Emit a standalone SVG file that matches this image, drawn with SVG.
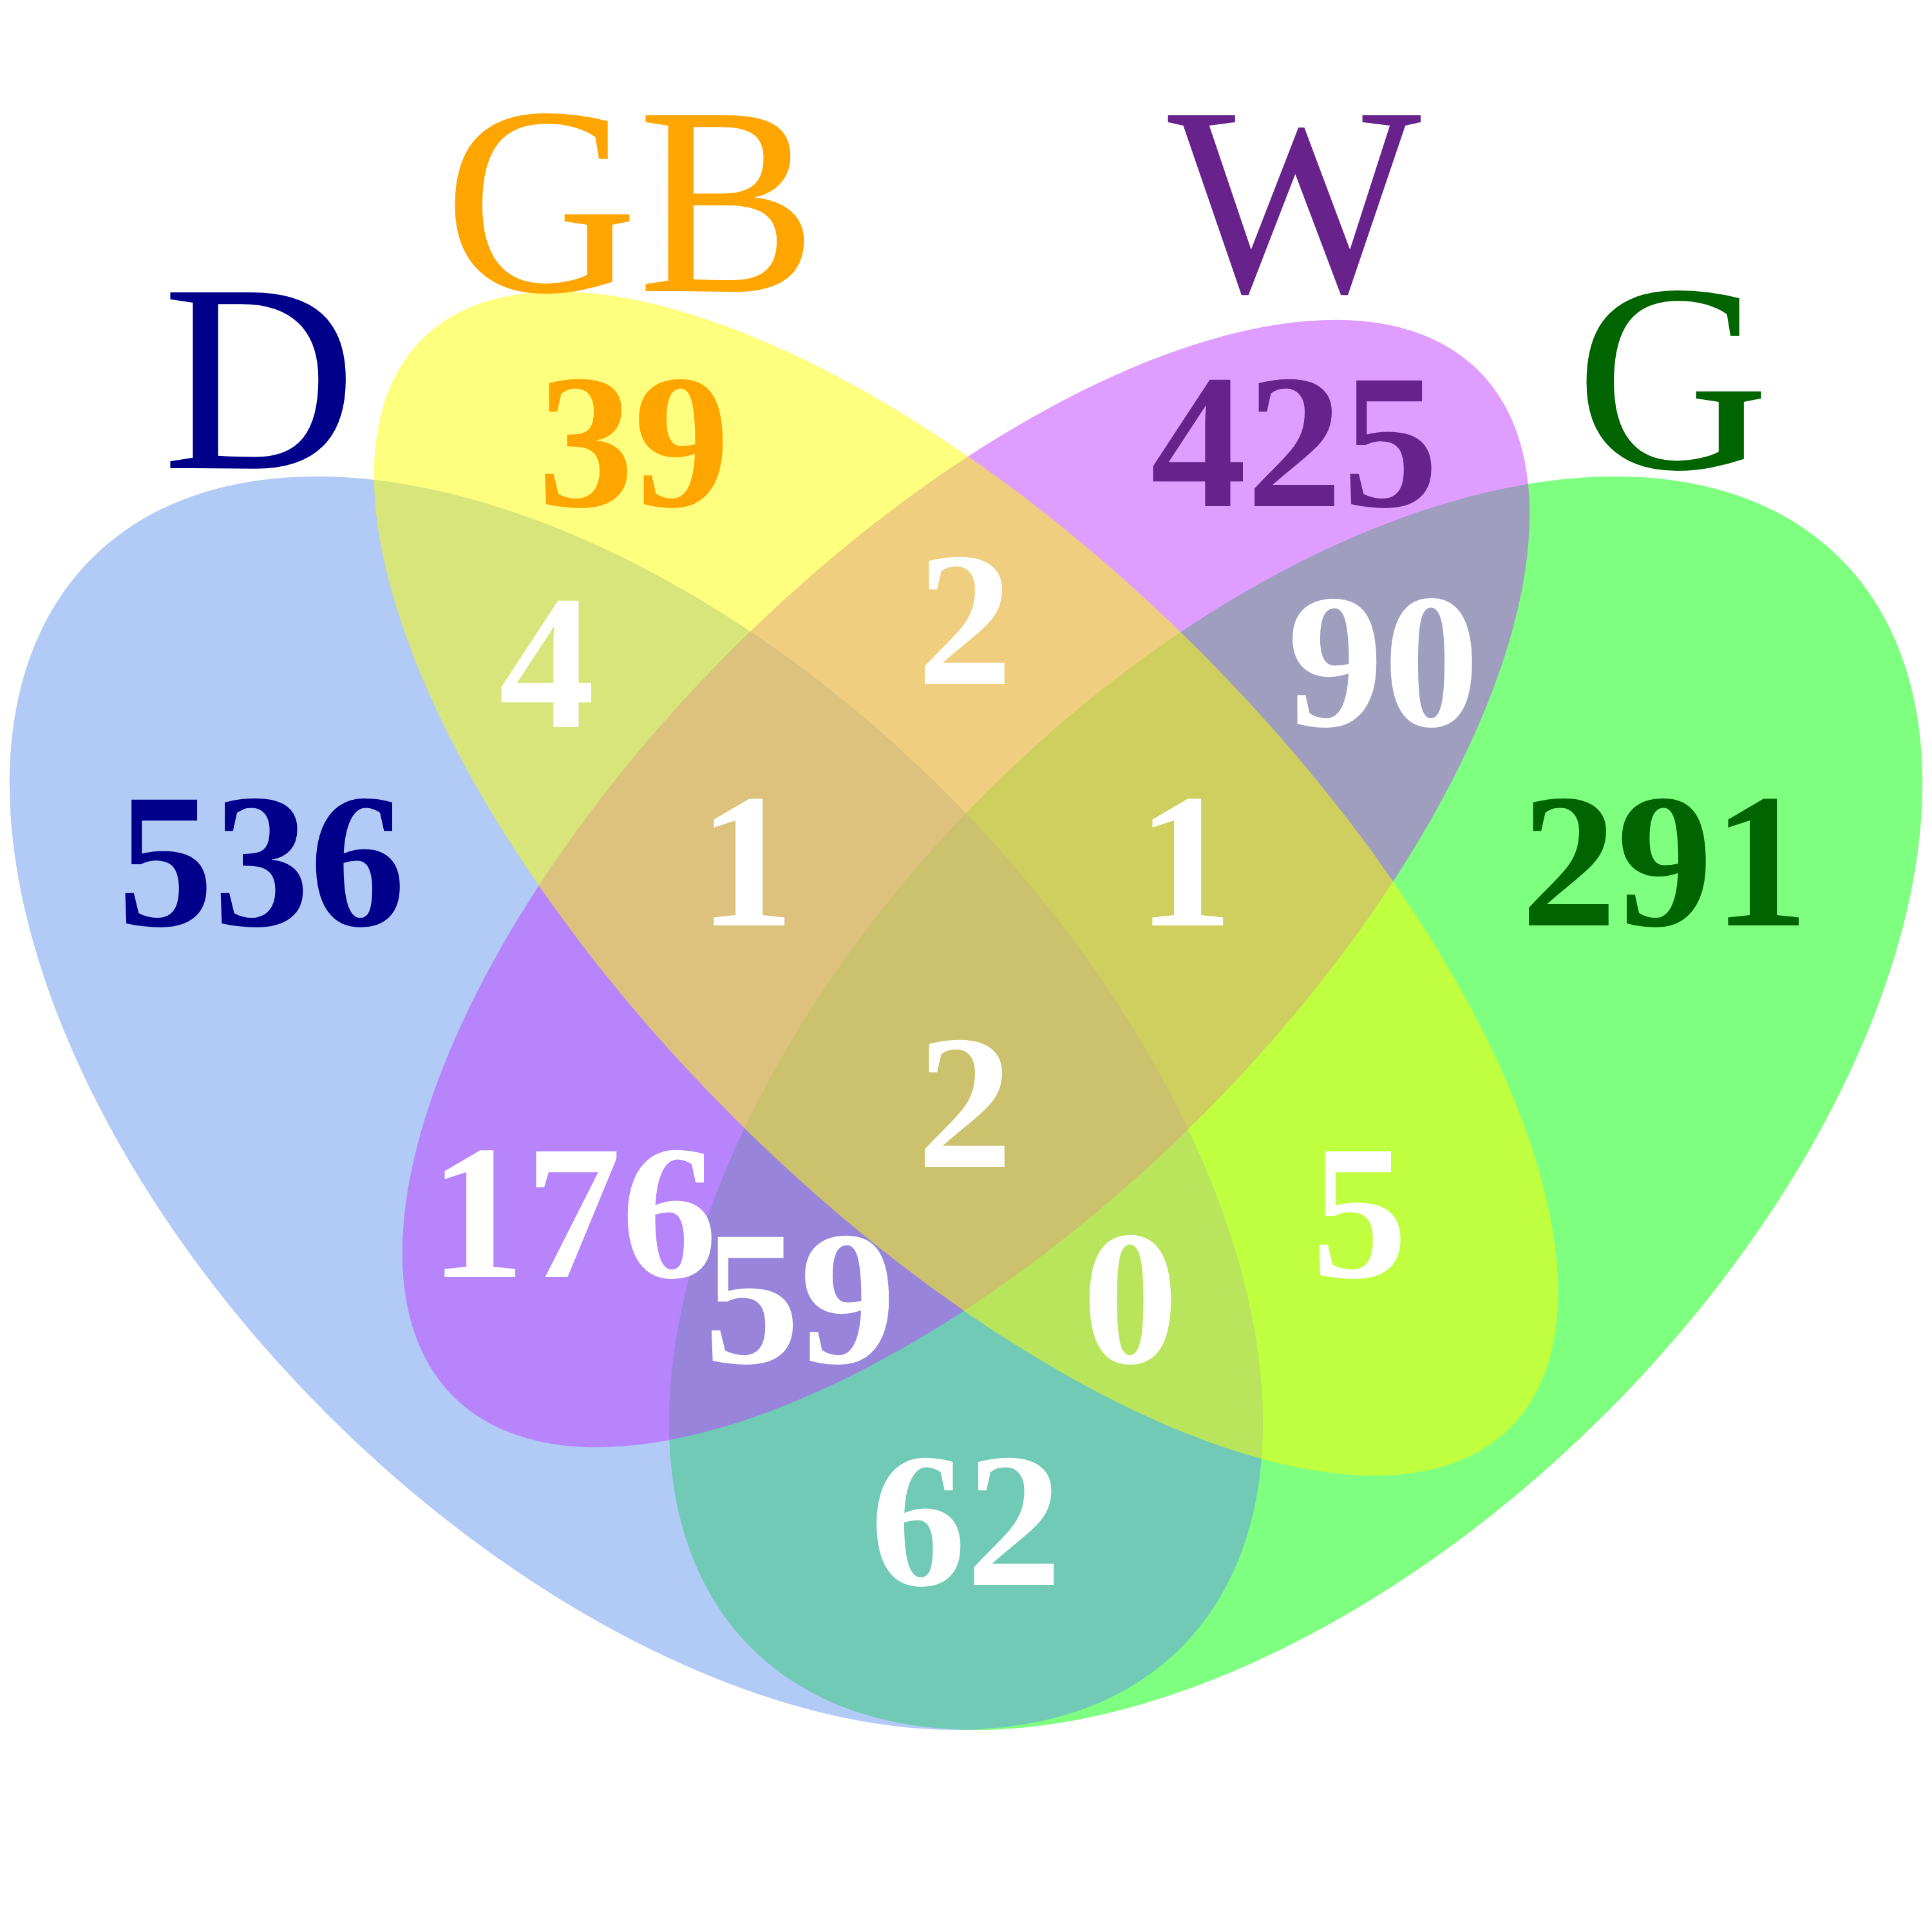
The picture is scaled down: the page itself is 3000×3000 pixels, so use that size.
<svg xmlns="http://www.w3.org/2000/svg" width="3000" height="3000" viewBox="0 0 3000 3000">
<style>
.set{fill-opacity:0.5;stroke:none}
.cat{font-size:417px;text-anchor:middle}
.num{font-size:298px;font-weight:bold;text-anchor:middle;fill:#ffffff}
</style>
<rect width="3000" height="3000" fill="#ffffff"/>
<g font-family="Liberation Serif, Times New Roman, Times, serif">
<g id="set-G">
<ellipse class="set" cx="0" cy="0" rx="1196" ry="681" fill="#00FF00" transform="translate(2012 1713) rotate(-45)"/>
<text class="cat" x="2597" y="727" fill="#006400" font-family="Liberation Serif, Times New Roman, serif">G</text>
</g>
<g id="set-D">
<ellipse class="set" cx="0" cy="0" rx="1196" ry="681" fill="#6495ED" transform="translate(988 1713) rotate(45)"/>
<text class="cat" x="403" y="727" fill="#00008B" font-family="Liberation Serif, Times New Roman, serif">D</text>
</g>
<g id="set-W">
<ellipse class="set" cx="0" cy="0" rx="1126" ry="514" fill="#BF3EFF" transform="translate(1500 1372) rotate(-45)"/>
<text class="cat" x="2010" y="452" fill="#68228B" font-family="Liberation Serif, Times New Roman, serif">W</text>
</g>
<g id="set-GB">
<ellipse class="set" cx="0" cy="0" rx="1195" ry="512" fill="#FFFF00" transform="translate(1500 1372) rotate(45)"/>
<text class="cat" x="979" y="452" fill="#FFA500" font-family="Liberation Serif, Times New Roman, serif">GB</text>
</g>
<g id="counts" font-family="Liberation Serif, Times New Roman, serif">
<text class="num" x="984" y="786" style="fill:#FFA500">39</text>
<text class="num" x="2010" y="786" style="fill:#68228B">425</text>
<text class="num" x="406" y="1437" style="fill:#00008B">536</text>
<text class="num" x="2585" y="1437" style="fill:#006400">291</text>
<text class="num" x="849" y="1129">4</text>
<text class="num" x="1498" y="1062">2</text>
<text class="num" x="2148" y="1127">90</text>
<text class="num" x="1159" y="1437">1</text>
<text class="num" x="1840" y="1437">1</text>
<text class="num" x="1498" y="1812">2</text>
<text class="num" x="890" y="1983">176</text>
<text class="num" x="2111" y="1983">5</text>
<text class="num" x="1242" y="2116">59</text>
<text class="num" x="1755" y="2116">0</text>
<text class="num" x="1500" y="2461">62</text>
</g>
</g>
</svg>
